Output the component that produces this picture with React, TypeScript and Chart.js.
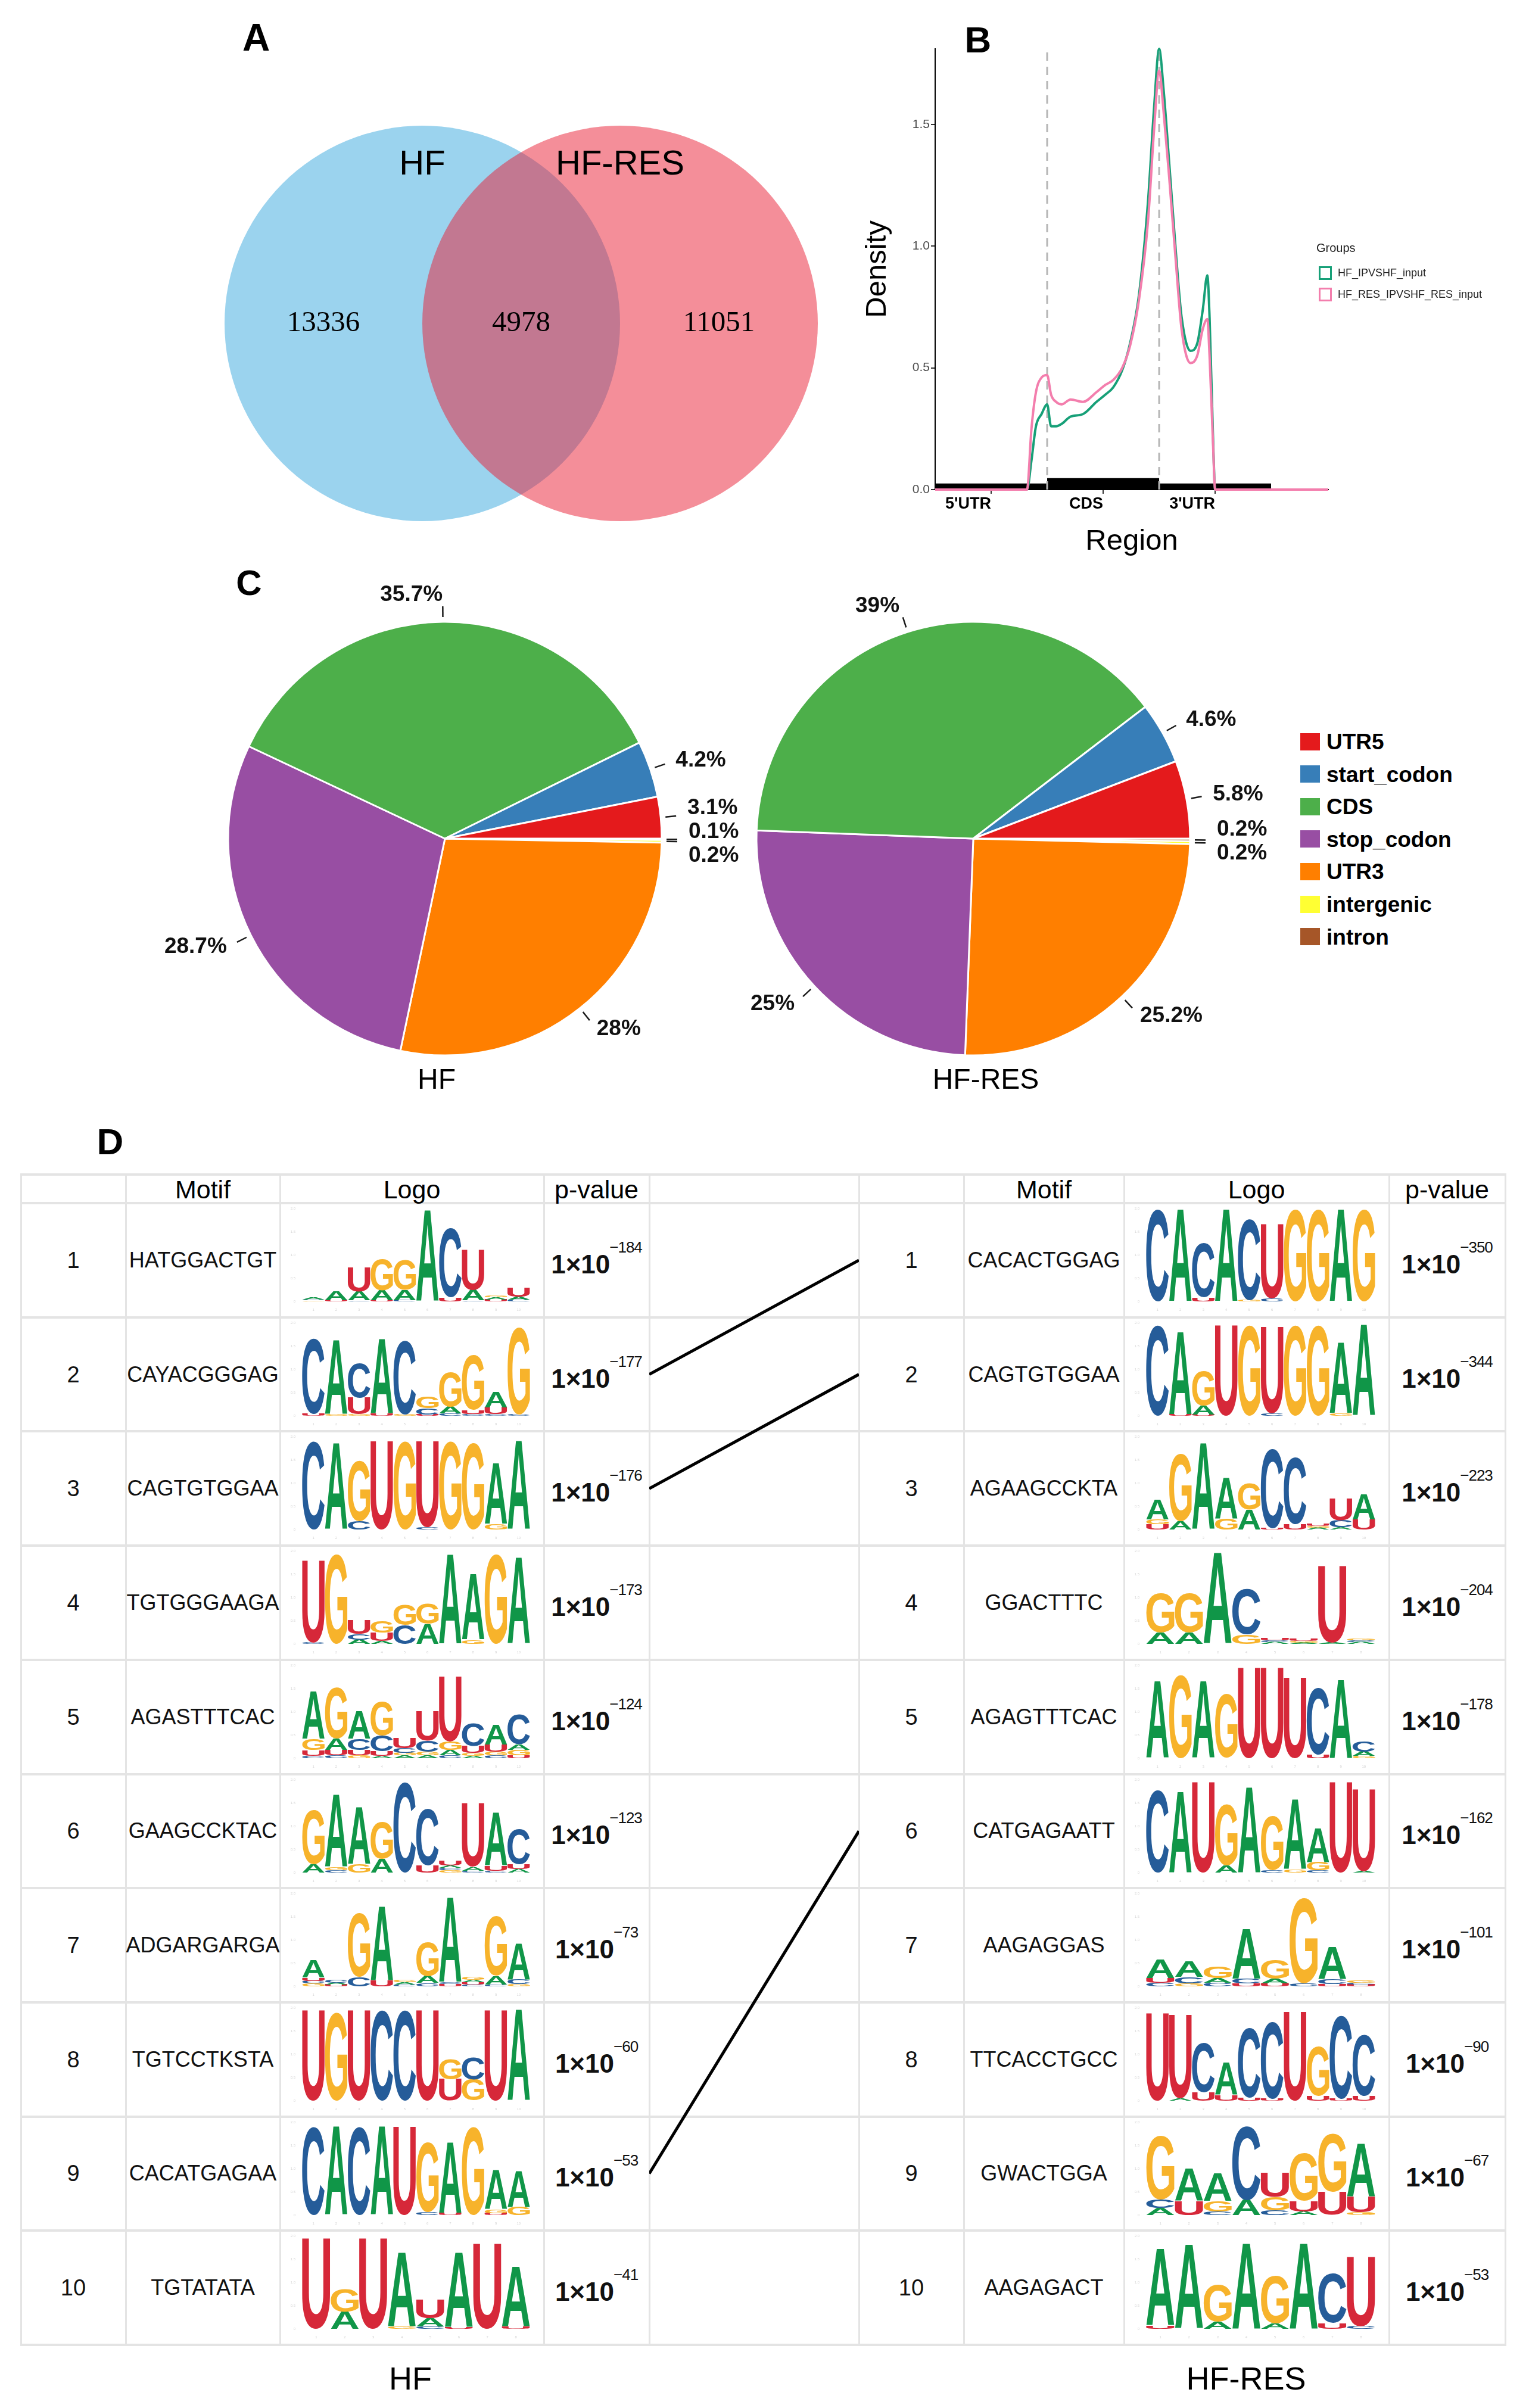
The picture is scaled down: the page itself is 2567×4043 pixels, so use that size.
import React, { useEffect, useRef } from "react";
import { Chart, registerables } from "chart.js";

Chart.register(...registerables);

const FONT = '"Liberation Sans", Arial, Helvetica, sans-serif';
const SERIF = '"Liberation Serif", "Times New Roman", serif';
const LOGO_FONT = '"Liberation Sans", Arial, Helvetica, sans-serif';

// ================= Panel A : Venn =================
const vennSets = ["HF", "HF-RES"];
const vennCounts = [13336, 4978, 11051]; // HF only, shared, HF-RES only
const vennCenters = [-0.5, 0.5];
const vennRadius = 1;
const vennColors = ["rgb(155,211,238)", "rgba(233,29,51,0.5)"];

// ================= Panel B : density =================
const regionLabels = ["5'UTR", "CDS", "3'UTR"];
const regionTicks = [0.5, 1.5, 2.5];
const regionEdges = [0, 1, 2, 3];
const regionBarHeights = [0.025, 0.047, 0.025];
const regionDividers = [1, 2];
const densityTicks = [0, 0.5, 1, 1.5];
const densityGroups = ["HF_IPVSHF_input", "HF_RES_IPVSHF_RES_input"];
const densityColors = ["#17a078", "#f37ead"];
const densityX = [0, 0.82, 0.86, 0.9, 0.95, 1.0, 1.035, 1.08, 1.13, 1.21, 1.32, 1.44, 1.52, 1.59, 1.67, 1.74, 1.82, 1.9, 1.955, 2.0, 2.04, 2.09, 2.15, 2.2, 2.28, 2.34, 2.39, 2.43, 2.45, 2.48, 2.5, 3.51];
const densityHF = [0, 0, 0.12, 0.26, 0.31, 0.35, 0.26, 0.26, 0.27, 0.3, 0.31, 0.36, 0.39, 0.42, 0.49, 0.6, 0.8, 1.18, 1.57, 1.81, 1.64, 1.34, 0.97, 0.71, 0.57, 0.6, 0.74, 0.88, 0.71, 0.23, 0, 0];
const densityHFRES = [0, 0, 0.25, 0.4, 0.46, 0.47, 0.39, 0.36, 0.35, 0.37, 0.36, 0.4, 0.43, 0.45, 0.5, 0.59, 0.78, 1.1, 1.48, 1.72, 1.55, 1.28, 0.93, 0.66, 0.52, 0.55, 0.66, 0.7, 0.55, 0.2, 0, 0];
const densityMax = 1.81;
const regionMax = 3.51;

// ================= Panel C : pies =================
const featureNames = ["UTR5", "start_codon", "CDS", "stop_codon", "UTR3", "intergenic", "intron"];
const featureColors = ["#E41A1C", "#377EB8", "#4DAF4A", "#984EA3", "#FF7F00", "#FFFF33", "#A65628"];
const pieHF = [3.1, 4.2, 35.7, 28.7, 28, 0.2, 0.1];
const pieHFRES = [5.8, 4.6, 39, 25, 25.2, 0.2, 0.2];
const pieTitles = ["HF", "HF-RES"];

// ================= Panel D : motifs =================
const tableHeaders = ["", "Motif", "Logo", "p-value"];
const hfMotifs = ["HATGGACTGT", "CAYACGGGAG", "CAGTGTGGAA", "TGTGGGAAGA", "AGASTTTCAC", "GAAGCCKTAC", "ADGARGARGA", "TGTCCTKSTA", "CACATGAGAA", "TGTATATA"];
const hfPExp = [-184, -177, -176, -173, -124, -123, -73, -60, -53, -41];
const resMotifs = ["CACACTGGAG", "CAGTGTGGAA", "AGAAGCCKTA", "GGACTTTC", "AGAGTTTCAC", "CATGAGAATT", "AAGAGGAS", "TTCACCTGCC", "GWACTGGA", "AAGAGACT"];
const resPExp = [-350, -344, -223, -204, -178, -162, -101, -90, -67, -53];
const motifLinks = [[2, 1], [3, 2], [9, 6]];
const nucleotideColors: Record<string, string> = { A: "#109648", C: "#255C99", G: "#F7B32B", U: "#D62839" };

// logo columns: letter+bits, bottom -> top
const hfLogos = [
  ["G.02,C.02,A.04", "U.03,A.2", "C.02,A.19,U.51", "U.03,A.21,G.67", "C.03,A.22,G.64", "A1.95", "U.09,C1.48", "C.02,A.23,U.86", "U.04,A.05,G.04", "C.04,A.06,U.2"],
  ["U.04,C1.62", "G.04,A1.58", "G.03,U.36,C.74", "U.04,A1.6", "G.03,C1.58", "U.03,C.13,G.26", "C.05,A.15,G.75", "C.04,U.08,G1.18", "C.04,U.14,A.33", "C.03,G1.88"],
  ["C1.9", "A1.85", "C.18,G1.3", "U1.9", "G1.9", "C.05,U1.85", "G1.9", "G1.85", "G.12,A1.3", "A1.9"],
  ["C.03,U1.77", "G1.92", "A.09,C.12,U.3", "A.06,U.18,G.26", "C.4,G.43", "A.43,G.43", "A1.92", "G.09,A1.4", "G1.92", "A1.86"],
  ["C.05,U.12,G.24,A1.03", "C.06,U.12,A.24,G1.1", "G.06,U.12,C.24,A.6", "A.05,U.1,C.34,G.73", "A.06,G.06,C.1,U.22", "A.06,G.08,C.24,U.64", "C.06,A.12,G.18,U1.4", "A.05,G.06,U.15,C.49", "C.06,G.08,U.15,A.43", "U.06,G.12,A.12,C.64"],
  ["A.18,G1.16", "C.05,G.07,A1.55", "G.18,A1.22", "A.3,G.8", "C1.95", "U.15,C1.22", "G.05,C.05,A.05,U.1", "C.04,A.08,U1.37", "C.04,U.1,A1.14", "A.08,U.1,C.76"],
  ["G.06,C.06,U.07,A.37", "U.04,A.04,C.06", "C.2,G1.36", "U.13,A1.58", "C.04,A.05,G.05", "C.07,A.15,G.73", "U.05,C.04,A1.82", "C.04,U.05,A.05,G.06", "C.04,A.18,G1.28", "G.05,C.1,A.77"],
  ["U1.95", "G1.9", "U1.95", "C1.95", "C1.95", "U1.95", "U.46,G.44", "G.46,C.47", "U1.95", "A1.95"],
  ["C1.9", "A1.9", "C1.9", "A1.9", "U1.9", "C.07,G1.5", "U.04,A1.52", "G1.9", "U.04,G.08,A.85", "G.18,A.77"],
  ["U1.95", "A.37,G.48", "U1.95", "G.05,A1.58", "C.05,A.18,U.4", "U.03,A1.6", "U1.84", "U.05,A1.29"],
];
const resLogos = [
  ["C1.98", "A1.98", "U.08,C1.16", "A1.98", "G.03,C1.74", "C.07,U1.6", "G1.98", "G1.98", "A1.98", "G1.98"],
  ["C1.95", "U.03,A1.77", "U.03,A.19,G.74", "U1.95", "G1.95", "C.05,U1.86", "G1.95", "G1.95", "G.05,A1.52", "A1.95"],
  ["U.12,G.1,A.43", "A.18,G1.46", "A1.85", "G.24,A.88", "A.43,G.58", "U.03,C1.7", "U.12,C1.43", "A.04,G.04,U.05", "A.05,C.15,U.46", "U.21,A.55"],
  ["A.24,G.85", "A.24,G.85", "A1.95", "G.2,C.98", "A.04,C.03,U.05", "A.03,G.03,U.04", "A.03,U1.65", "A.04,C.04,G.04"],
  ["A1.65", "G1.8", "A1.65", "G1.37", "U1.95", "U1.95", "U1.74", "U.08,C1.43", "A1.68", "G.05,A.09,C.21"],
  ["C1.77", "A1.74", "U1.95", "A.15,G1.31", "A1.83", "C.05,G1.16", "G.06,A1.5", "C.05,G.18,A.73", "U1.95", "A.03,U1.77"],
  ["C.08,U.1,A.4", "G.06,C.14,A.33", "C.08,A.1,G.26", "U.06,C.1,A1.07", "U.06,A.1,G.4", "C.06,G1.84", "U.05,C.1,A.7", "U.04,C.04,G.05"],
  ["U1.88", "A.05,U1.8", "U.18,C1.07", "U.12,A.7", "U.07,C1.5", "U.04,C1.65", "U1.91", "U.1,G1.07", "U.04,C1.8", "U.1,C1.32"],
  ["A.15,C.18,G1.36", "U.3,A.7", "C.08,G.22,A.59", "A.33,C1.58", "C.1,G.29,U.51", "A.08,U.22,G1.03", "U.5,G1.25", "G.06,U.33,A1.14"],
  ["U.07,A1.65", "A1.8", "A.15,G.8", "A1.84", "A.12,G1.03", "A1.84", "U.12,C1.07", "C.06,U1.5"],
];

// ================= helpers =================
const base: any = {
  responsive: false,
  animation: false,
  devicePixelRatio: 1,
  events: [],
  plugins: { legend: { display: false }, tooltip: { enabled: false } },
};

function ChartCanvas({ x, y, w, h, config }: { x: number; y: number; w: number; h: number; config: () => any }) {
  const ref = useRef<HTMLCanvasElement | null>(null);
  useEffect(() => {
    const chart = new Chart(ref.current as HTMLCanvasElement, config());
    return () => chart.destroy();
  }, []);
  return <canvas ref={ref} width={w} height={h} style={{ position: "absolute", left: x, top: y, width: w, height: h }} />;
}

function T({ x, y, children, size, bold, align = "center", family = FONT, color = "#000", style = {} }: any) {
  const tx = align === "center" ? "-50%" : align === "right" ? "-100%" : "0";
  return (
    <div style={{ position: "absolute", left: x, top: y, transform: `translate(${tx}, -50%)`, fontSize: size, fontWeight: bold ? 700 : 400, fontFamily: family, color, lineHeight: 1, whiteSpace: "nowrap", ...style }}>
      {children}
    </div>
  );
}

// ================= Panel A config =================
const VENN_PX = 332;
const VENN_OX = 875;
const VENN_OY = 543;
const VENN_W = 1420;
const VENN_H = 930;

const vennLabelPlugin = {
  id: "vennLabels",
  afterDatasetsDraw(chart: any) {
    const { ctx } = chart;
    const xs = chart.scales.x;
    const ys = chart.scales.y;
    ctx.save();
    ctx.fillStyle = "#000";
    ctx.textAlign = "center";
    ctx.textBaseline = "middle";
    ctx.font = `58px ${FONT}`;
    vennSets.forEach((s, i) => ctx.fillText(s, xs.getPixelForValue(vennCenters[i]), ys.getPixelForValue(vennRadius * 0.8)));
    const pos = [vennCenters[0] - vennRadius / 2, (vennCenters[0] + vennCenters[1]) / 2, vennCenters[1] + vennRadius / 2];
    ctx.font = `49px ${SERIF}`;
    vennCounts.forEach((c, i) => ctx.fillText(String(c), xs.getPixelForValue(pos[i]), ys.getPixelForValue(0)));
    ctx.restore();
  },
};

const vennConfig = () => ({
  type: "scatter",
  data: {
    datasets: [
      {
        data: vennCenters.map((x) => ({ x, y: 0 })),
        backgroundColor: vennColors,
        borderWidth: 0,
        pointRadius: (c: any) => {
          const s = c.chart.scales.x;
          return Math.abs(s.getPixelForValue(vennRadius) - s.getPixelForValue(0));
        },
      },
    ],
  },
  options: {
    ...base,
    layout: { padding: 0 },
    scales: {
      x: { type: "linear", display: false, min: -VENN_OX / VENN_PX, max: (VENN_W - VENN_OX) / VENN_PX },
      y: { type: "linear", display: false, min: -(VENN_H - VENN_OY) / VENN_PX, max: VENN_OY / VENN_PX },
    },
  },
  plugins: [vennLabelPlugin],
});

// ================= Panel B config =================
const densityConfig = () => {
  const barPts = regionEdges.map((x, i) => ({ x, y: regionBarHeights[Math.min(i, regionBarHeights.length - 1)] }));
  return {
    type: "line",
    data: {
      datasets: [
        { label: densityGroups[1], data: densityX.map((x, i) => ({ x, y: densityHFRES[i] })), borderColor: densityColors[1], borderWidth: 4, pointRadius: 0, cubicInterpolationMode: "monotone", fill: false, clip: false, order: 0 },
        { label: densityGroups[0], data: densityX.map((x, i) => ({ x, y: densityHF[i] })), borderColor: densityColors[0], borderWidth: 4, pointRadius: 0, cubicInterpolationMode: "monotone", fill: false, clip: false, order: 1 },
        ...regionDividers.map((d) => ({ data: [{ x: d, y: 0 }, { x: d, y: densityMax }], borderColor: "#b5b5b5", borderWidth: 3, borderDash: [14, 10], pointRadius: 0, fill: false, order: 2 })),
        { data: barPts, stepped: "before", borderWidth: 0, borderColor: "#000", backgroundColor: "#000", fill: "origin", pointRadius: 0, order: 3 },
      ],
    },
    options: {
      ...base,
      layout: { padding: { left: 0, top: 82, right: 337, bottom: 0 } },
      scales: {
        x: {
          type: "linear",
          min: 0,
          max: regionMax,
          afterBuildTicks: (s: any) => { s.ticks = regionTicks.map((v) => ({ value: v })); },
          ticks: { align: "end", maxRotation: 0, autoSkip: false, padding: 1, color: "#000", font: { size: 27, weight: "bold", family: FONT }, callback: (_v: any, i: number) => regionLabels[i] },
          grid: { drawOnChartArea: false, drawTicks: true, tickLength: 7, color: "#333", lineWidth: 2 },
          border: { display: true, color: "#000", width: 2 },
          title: { display: true, text: "Region", color: "#000", font: { size: 49, family: FONT }, padding: { top: 0, bottom: 11 } },
          afterFit: (s: any) => { s.height = 128; },
        },
        y: {
          type: "linear",
          min: 0,
          max: densityMax,
          afterBuildTicks: (s: any) => { s.ticks = densityTicks.map((v) => ({ value: v })); },
          ticks: { padding: 2, color: "#4d4d4d", font: { size: 21, family: FONT }, callback: (v: any) => Number(v).toFixed(1) },
          grid: { drawOnChartArea: false, drawTicks: true, tickLength: 7, color: "#333", lineWidth: 2 },
          border: { display: true, color: "#000", width: 2 },
          title: { display: true, text: "Density", color: "#000", font: { size: 49, family: FONT }, padding: { top: 7, bottom: 0 } },
          afterFit: (s: any) => { s.width = 133; },
        },
      },
    },
  };
};

// ================= Panel C config =================
const pieLabelPlugin = {
  id: "pieLabels",
  afterDatasetsDraw(chart: any) {
    const { ctx } = chart;
    const meta = chart.getDatasetMeta(0);
    const values = chart.data.datasets[0].data;
    const items = meta.data.map((arc: any, i: number) => {
      const p = arc.getProps(["x", "y", "startAngle", "endAngle", "outerRadius"], true);
      const mid = (p.startAngle + p.endAngle) / 2;
      const c = Math.cos(mid);
      const s = Math.sin(mid);
      return { c, s, cx: p.x, cy: p.y, r: p.outerRadius, lx: p.x + c * (p.outerRadius + 45), ly: p.y + s * (p.outerRadius + 45), text: `${values[i]}%` };
    });
    const gap = 40;
    [items.filter((it: any) => it.c > 0), items.filter((it: any) => it.c <= 0)].forEach((g: any[]) => {
      g.sort((a, b) => a.ly - b.ly);
      for (let k = 0; k < 200; k++) {
        for (let j = 0; j < g.length - 1; j++) {
          const d = g[j + 1].ly - g[j].ly;
          if (d < gap) {
            const m = (gap - d) / 2;
            g[j].ly -= m;
            g[j + 1].ly += m;
          }
        }
      }
    });
    ctx.save();
    ctx.strokeStyle = "#1a1a1a";
    ctx.lineWidth = 2.5;
    ctx.fillStyle = "#111";
    ctx.font = `bold 37px ${FONT}`;
    ctx.textBaseline = "middle";
    items.forEach((it: any) => {
      ctx.beginPath();
      ctx.moveTo(it.cx + it.c * (it.r + 8), it.cy + it.s * (it.r + 8));
      ctx.lineTo(it.cx + it.c * (it.r + 26), it.cy + it.s * (it.r + 26));
      ctx.stroke();
      ctx.textAlign = it.c > 0 ? "left" : "right";
      ctx.fillText(it.text, it.lx, it.ly);
    });
    ctx.restore();
  },
};

const pieConfig = (values: number[], padding: any) => () => ({
  type: "pie",
  data: {
    labels: featureNames.slice().reverse(),
    datasets: [
      {
        data: values.slice().reverse(),
        backgroundColor: featureColors.slice().reverse(),
        borderColor: "#ffffff",
        borderWidth: 3,
        hoverBorderWidth: 3,
      },
    ],
  },
  options: { ...base, rotation: 90, layout: { padding } },
  plugins: [pieLabelPlugin],
});

// ================= Panel D configs =================
function drawGlyph(ctx: CanvasRenderingContext2D, letter: string, left: number, top: number, w: number, h: number, color: string) {
  ctx.save();
  ctx.font = `bold 200px ${LOGO_FONT}`;
  ctx.textAlign = "left";
  ctx.textBaseline = "alphabetic";
  const m = ctx.measureText(letter);
  const gw = m.actualBoundingBoxLeft + m.actualBoundingBoxRight;
  const gh = m.actualBoundingBoxAscent + m.actualBoundingBoxDescent;
  ctx.translate(left, top);
  ctx.scale(w / gw, h / gh);
  ctx.fillStyle = color;
  ctx.fillText(letter, m.actualBoundingBoxLeft, m.actualBoundingBoxAscent);
  ctx.restore();
}

const logoPlugin = {
  id: "logoLetters",
  afterDatasetsDraw(chart: any) {
    const ctx = chart.ctx;
    chart.data.datasets.forEach((ds: any, di: number) => {
      const meta = chart.getDatasetMeta(di);
      meta.data.forEach((bar: any, i: number) => {
        const letter = ds.letters[i];
        if (!letter) return;
        const p = bar.getProps(["x", "y", "base", "width"], true);
        const top = Math.min(p.y, p.base);
        const h = Math.abs(p.base - p.y);
        if (h < 0.6) return;
        drawGlyph(ctx, letter, p.x - p.width / 2, top, p.width, h, nucleotideColors[letter]);
      });
    });
  },
};

const logoConfig = (cols: string[]) => () => {
  const parsed = cols.map((c) => c.split(",").map((s) => ({ l: s[0], h: parseFloat(s.slice(1)) })));
  const levels = Math.max(...parsed.map((p) => p.length));
  const datasets: any[] = [];
  for (let k = 0; k < levels; k++) {
    datasets.push({
      data: parsed.map((p) => (p[k] ? p[k].h : 0)),
      letters: parsed.map((p) => (p[k] ? p[k].l : "")),
      backgroundColor: "rgba(0,0,0,0)",
      borderWidth: 0,
      categoryPercentage: 0.98,
      barPercentage: 1,
    });
  }
  return {
    type: "bar",
    data: { labels: parsed.map((_, i) => String(i + 1)), datasets },
    options: {
      ...base,
      layout: { padding: { top: 7, right: 21, left: 0, bottom: 0 } },
      scales: {
        x: { stacked: true, grid: { display: false }, border: { display: false }, ticks: { font: { size: 6 }, color: "#d4d4d4", padding: 3, maxRotation: 0 }, afterFit: (s: any) => { s.height = 25; } },
        y: { stacked: true, min: 0, max: 2, grid: { display: false }, border: { display: false }, ticks: { font: { size: 6 }, color: "#d4d4d4", stepSize: 0.5 }, afterFit: (s: any) => { s.width = 35; } },
      },
    },
    plugins: [logoPlugin],
  };
};

const linkConfig = () => ({
  type: "scatter",
  data: {
    datasets: motifLinks.map(([a, b]) => ({
      data: [{ x: 0, y: a - 0.5 }, { x: 1, y: b - 0.5 }],
      showLine: true,
      borderColor: "#000",
      borderWidth: 5,
      pointRadius: 0,
      clip: false,
    })),
  },
  options: {
    ...base,
    layout: { padding: 0 },
    scales: {
      x: { type: "linear", min: 0, max: 1, display: false },
      y: { type: "linear", min: 0, max: hfMotifs.length, reverse: true, display: false },
    },
  },
});

// ================= Panels =================
function PanelA() {
  return (
    <>
      <ChartCanvas x={0} y={0} w={VENN_W} h={VENN_H} config={vennConfig} />
      <T x={430} y={63} size={64} bold>A</T>
    </>
  );
}

function PanelB() {
  return (
    <>
      <ChartCanvas x={1437} y={0} w={1130} h={950} config={densityConfig} />
      <T x={1642} y={67} size={62} bold>B</T>
      <T x={2210} y={416} size={20} align="left" color="#222">Groups</T>
      {densityGroups.map((g, i) => (
        <React.Fragment key={g}>
          <div style={{ position: "absolute", left: 2214, top: 447 + i * 36, width: 22, height: 23, boxSizing: "border-box", border: `3px solid ${densityColors[i]}`, background: "#fff" }} />
          <T x={2246} y={458 + i * 36} size={18} align="left" color="#222">{g}</T>
        </React.Fragment>
      ))}
    </>
  );
}

function PanelC() {
  return (
    <>
      <ChartCanvas x={250} y={940} w={1000} h={930} config={pieConfig(pieHF, { left: 131.5, right: 137.5, top: 102.5, bottom: 96.5 })} />
      <ChartCanvas x={1220} y={940} w={930} h={930} config={pieConfig(pieHFRES, { left: 48.5, right: 150.5, top: 102.5, bottom: 96.5 })} />
      <T x={418} y={979} size={60} bold>C</T>
      <T x={733} y={1812} size={48}>{pieTitles[0]}</T>
      <T x={1655} y={1812} size={48}>{pieTitles[1]}</T>
      {featureNames.map((f, i) => (
        <React.Fragment key={f}>
          <div style={{ position: "absolute", left: 2183, top: 1245 + i * 54.6 - 14.5, width: 33, height: 29, background: featureColors[i] }} />
          <T x={2227} y={1245 + i * 54.6} size={37} bold align="left">{f}</T>
        </React.Fragment>
      ))}
    </>
  );
}

const colX = [35, 211, 470, 913, 1090, 1442, 1618, 1887, 2332, 2527];
const TABLE_TOP = 1972;
const HEAD_BOTTOM = 2020;
const ROW_H = 191.7;

function PanelD() {
  const nRows = hfMotifs.length;
  const tableBottom = HEAD_BOTTOM + nRows * ROW_H;
  const hLines = [TABLE_TOP, ...Array.from({ length: nRows + 1 }, (_, i) => HEAD_BOTTOM + i * ROW_H)];
  const sides = [
    { start: 0, motifs: hfMotifs, exps: hfPExp, logos: hfLogos },
    { start: 5, motifs: resMotifs, exps: resPExp, logos: resLogos },
  ];
  const mid = (c: number) => (colX[c] + colX[c + 1]) / 2;
  return (
    <>
      <T x={185} y={1917} size={62} bold>D</T>
      {hLines.map((y, i) => (
        <div key={"h" + i} style={{ position: "absolute", left: colX[0] - 1, top: y - 2, width: colX[colX.length - 1] - colX[0] + 3, height: 4, background: "#e4e4e4" }} />
      ))}
      {colX.map((x, i) => (
        <div key={"v" + i} style={{ position: "absolute", left: x - 1.5, top: TABLE_TOP, width: 3, height: tableBottom - TABLE_TOP, background: "#e4e4e4" }} />
      ))}
      {sides.map((sd, si) => (
        <React.Fragment key={"s" + si}>
          {tableHeaders.map((h, hi) => h ? <T key={"hd" + hi} x={mid(sd.start + hi)} y={(TABLE_TOP + HEAD_BOTTOM) / 2 + 1} size={43}>{h}</T> : null)}
          {sd.motifs.map((m, r) => {
            const top = HEAD_BOTTOM + r * ROW_H;
            const cy = top + ROW_H / 2;
            const lc = sd.start + 2;
            return (
              <React.Fragment key={"r" + r}>
                <T x={mid(sd.start)} y={cy} size={38} color="#111">{r + 1}</T>
                <T x={mid(sd.start + 1)} y={cy} size={36} color="#111">{m}</T>
                <ChartCanvas x={colX[lc] + 2} y={top + 2} w={colX[lc + 1] - colX[lc] - 4} h={188} config={logoConfig(sd.logos[r])} />
                <div style={{ position: "absolute", left: colX[sd.start + 3], width: colX[sd.start + 4] - colX[sd.start + 3], top, height: ROW_H, display: "flex", alignItems: "center", justifyContent: "center", fontFamily: FONT, color: "#111", lineHeight: 1 }}>
                  <span style={{ fontSize: 44, fontWeight: 700, position: "relative", top: 7 }}>1×10</span>
                  <span style={{ fontSize: 26, position: "relative", top: -22, marginLeft: -1, letterSpacing: -1 }}>{"\u2212" + Math.abs(sd.exps[r])}</span>
                </div>
              </React.Fragment>
            );
          })}
        </React.Fragment>
      ))}
      <ChartCanvas x={colX[4]} y={HEAD_BOTTOM} w={colX[5] - colX[4]} h={Math.round(nRows * ROW_H)} config={linkConfig} />
      <T x={689} y={3993} size={54}>HF</T>
      <T x={2092} y={3993} size={54}>HF-RES</T>
    </>
  );
}

export default function App() {
  return (
    <div style={{ position: "relative", width: 2567, height: 4043, background: "#fff", overflow: "hidden", fontFamily: FONT }}>
      <style>{"html,body{margin:0;padding:0;background:#fff}"}</style>
      <PanelA />
      <PanelB />
      <PanelC />
      <PanelD />
    </div>
  );
}
